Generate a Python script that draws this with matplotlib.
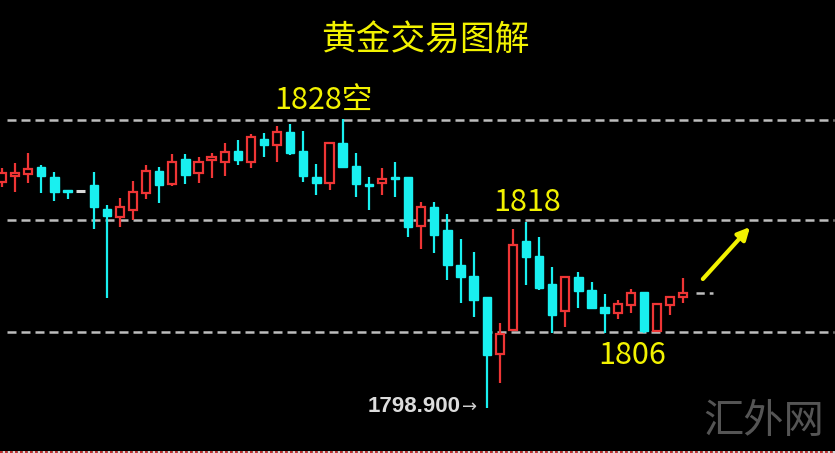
import matplotlib
matplotlib.use("Agg")
import matplotlib.pyplot as plt
import numpy as np
from matplotlib.lines import Line2D

plt.rcParams['font.family'] = ['Noto Sans CJK SC', 'DejaVu Sans']

# ---- data (price values) ----
opens  = [1821.8, 1822.4, 1822.6, 1823.3, 1822.3, 1821.0, 1820.9, 1821.5, 1819.1, 1818.3,
          1819.0, 1820.7, 1822.9, 1821.6, 1824.1, 1822.7, 1824.0, 1823.8, 1824.9, 1823.8,
          1826.1, 1825.5, 1826.8, 1824.9, 1822.3, 1821.7, 1825.7, 1823.4, 1821.6, 1821.7,
          1822.3, 1822.3, 1817.4, 1819.3, 1817.0, 1813.5, 1812.4, 1810.3, 1804.6, 1807.0,
          1815.9, 1814.4, 1811.6, 1808.9, 1812.3, 1811.0, 1809.3, 1808.7, 1809.5, 1810.8,
          1806.9, 1809.5, 1810.3]
highs  = [1823.2, 1823.7, 1824.7, 1823.5, 1822.8, 1821.0, 1820.9, 1822.8, 1819.5, 1820.2,
          1821.9, 1823.5, 1823.3, 1824.6, 1824.6, 1824.3, 1824.7, 1825.7, 1826.0, 1826.6,
          1826.7, 1827.4, 1827.6, 1826.9, 1823.6, 1825.8, 1828.1, 1824.7, 1822.3, 1823.2,
          1823.8, 1822.3, 1819.8, 1819.8, 1818.6, 1816.1, 1814.8, 1810.3, 1807.7, 1817.1,
          1817.8, 1816.3, 1813.3, 1812.4, 1812.8, 1811.8, 1810.6, 1810.0, 1811.1, 1810.8,
          1809.7, 1810.4, 1812.2]
lows   = [1821.3, 1820.8, 1821.7, 1820.7, 1819.9, 1820.1, 1820.9, 1817.1, 1810.2, 1817.3,
          1818.0, 1820.1, 1819.7, 1821.4, 1821.6, 1821.7, 1822.2, 1822.4, 1823.5, 1823.2,
          1824.3, 1823.8, 1824.5, 1821.8, 1820.5, 1821.0, 1823.3, 1820.3, 1819.0, 1820.5,
          1820.3, 1816.3, 1815.1, 1814.7, 1812.0, 1809.7, 1808.3, 1799.2, 1801.7, 1807.0,
          1811.5, 1811.0, 1806.7, 1807.3, 1809.2, 1809.1, 1806.7, 1808.1, 1808.7, 1806.7,
          1806.8, 1808.5, 1809.7]
closes = [1822.7, 1822.7, 1823.1, 1822.4, 1820.8, 1820.8, 1820.9, 1819.3, 1818.4, 1819.3,
          1820.8, 1822.9, 1821.5, 1823.8, 1822.5, 1823.8, 1824.3, 1824.8, 1824.0, 1826.3,
          1825.5, 1826.8, 1824.7, 1822.4, 1821.7, 1825.7, 1823.3, 1821.6, 1821.4, 1822.1,
          1822.1, 1817.3, 1819.3, 1816.5, 1813.5, 1812.3, 1810.0, 1804.5, 1806.6, 1815.5,
          1814.3, 1811.2, 1808.5, 1812.3, 1810.9, 1809.2, 1808.7, 1809.6, 1810.7, 1806.9,
          1809.6, 1810.3, 1810.7]

levels = [1828.0, 1818.0, 1806.8]
title = "黄金交易图解"
level_labels = ["1828空", "1818", "1806"]
low_label = "1798.900"
watermark = "汇外网"

# ---- style ----
W, H = 835, 453
BG = "black"
RED = "#ee3535"
CYAN = "#19f0f0"
DOJI = "#d8d8d8"
YELLOW = "#f2f200"
DASH = "#bdbdbd"

fig = plt.figure(figsize=(W / 100, H / 100), dpi=100, facecolor=BG)
ax = fig.add_axes([0, 0, 1, 1], facecolor=BG)
ax.set_axis_off()

n = len(opens)
x = np.arange(n)
step_px = 13.1
x0_px = 2.0
ax.set_xlim(-x0_px / step_px, (W - x0_px) / step_px)
ax.set_ylim(1840 - H / 10, 1840)

# dashed level lines
for lv in levels:
    ax.plot([5 / step_px, 832 / step_px], [lv, lv], color=DASH, lw=1.8,
            linestyle=(0, (3.6, 2.0)), zorder=1)

# current price marker
ax.plot([n - 1 + 0.95, n - 1 + 2.3], [closes[-1]] * 2, color=DASH, lw=1.8,
        linestyle=(0, (3.3, 2.0)), zorder=1)

body_w = 0.64
o = np.array(opens); c = np.array(closes); h = np.array(highs); l = np.array(lows)
up = c > o
down = c < o
flat = c == o

# wicks
for i in range(n):
    col = RED if up[i] else (CYAN if down[i] else DOJI)
    if h[i] > l[i]:
        ax.vlines(x[i], l[i], h[i], color=col, lw=1.6, zorder=2)

# bodies
ax.bar(x[up], (c - o)[up], bottom=o[up], width=body_w, facecolor=BG,
       edgecolor=RED, linewidth=1.6, zorder=3)
ax.bar(x[down], (o - c)[down], bottom=c[down], width=body_w, facecolor=CYAN,
       edgecolor=CYAN, linewidth=1.0, zorder=3)
for i in x[flat]:
    ax.hlines(o[i], i - body_w / 2 - 0.05, i + body_w / 2 + 0.05, color=DOJI, lw=2.2, zorder=3)

# yellow arrow
ax.annotate("", xy=(57.1, 1817.3), xytext=(53.5, 1812.1),
            arrowprops=dict(arrowstyle="-|>", color=YELLOW, lw=3,
                            mutation_scale=18, shrinkA=0, shrinkB=0), zorder=5)

def fx(px):
    return px / W

def fy(py):
    return 1 - py / H

fig.text(fx(425), fy(40), title, color=YELLOW, fontsize=25, ha="center", va="center")
fig.text(fx(323), fy(101), level_labels[0], color=YELLOW, fontsize=22, ha="center", va="center")
fig.text(fx(527), fy(202), level_labels[1], color=YELLOW, fontsize=22, ha="center", va="center")
fig.text(fx(632), fy(356), level_labels[2], color=YELLOW, fontsize=22, ha="center", va="center")
fig.text(fx(461), fy(407), low_label, color="#dcdcdc", fontsize=16, fontweight="bold",
         family=["Liberation Sans", "DejaVu Sans"], ha="right", va="center")
fig.text(fx(462), fy(407), "→", color="#cfcfcf", fontsize=13,
         family=["DejaVu Sans"], ha="left", va="center")
fig.text(fx(764), fy(422), watermark, color="#555555", fontsize=29, ha="center", va="center")

# bottom dotted edge
fig.add_artist(Line2D([0, 1], [fy(451.5), fy(451.5)], color=RED, lw=1.2,
                      linestyle=(0, (1.5, 1.5)), gapcolor="white", transform=fig.transFigure))

fig.savefig("out.png", dpi=100, facecolor=BG)
